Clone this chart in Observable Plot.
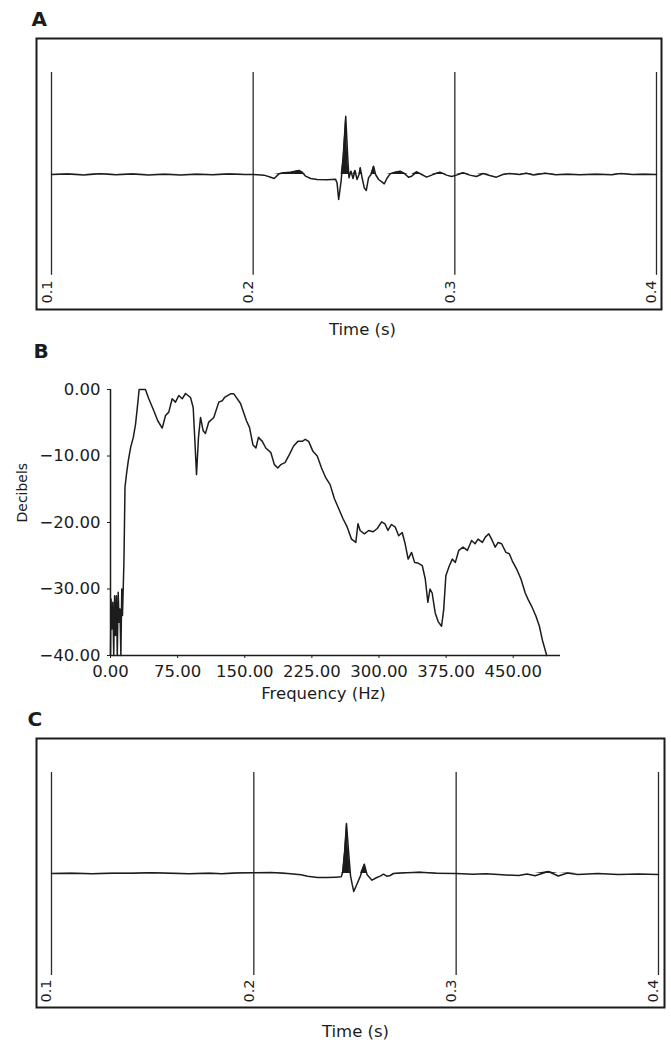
<!DOCTYPE html>
<html><head><meta charset="utf-8">
<script src="https://cdn.jsdelivr.net/npm/d3@7"></script>
<script src="https://cdn.jsdelivr.net/npm/@observablehq/plot@0.6"></script>
<style>
body{margin:0;background:#fff;}
#chart{position:relative;width:671px;height:1042px;background:#fff;}
#chart svg{position:absolute;left:0;}
</style></head><body><div id="chart"></div>
<script>
// ---- Data ----
const timeTicks = [0.1, 0.2, 0.3, 0.4];
const freqTicks = [0, 75, 150, 225, 300, 375, 450];
const dbTicks = [0, -10, -20, -30, -40];

// Panel A: waveform (relative amplitude, main peak = 1)
const timeA = [0.1,0.108,0.116,0.124,0.132,0.14,0.148,0.156,0.164,0.172,0.18,0.188,0.196,0.2,0.2054,0.2087,0.2104,0.2128,0.2153,0.2186,0.2227,0.2243,0.226,0.2285,0.2317,0.2367,0.2408,0.2416,0.2424,0.2436,0.2446,0.2459,0.2469,0.2475,0.2485,0.2495,0.2505,0.2515,0.2525,0.2531,0.2541,0.2551,0.2561,0.2572,0.2584,0.2597,0.2607,0.2622,0.2638,0.265,0.2663,0.2679,0.2704,0.2729,0.2745,0.277,0.2786,0.2811,0.2836,0.286,0.2885,0.2926,0.2959,0.2984,0.3008,0.3041,0.3074,0.3107,0.314,0.3173,0.3206,0.3238,0.3271,0.3321,0.3355,0.339,0.3449,0.35,0.356,0.362,0.37,0.378,0.382,0.388,0.394,0.4];
const ampA = [0,0.008,-0.01,0.012,-0.005,0.008,-0.01,0.005,-0.008,0.006,-0.004,0.01,0.002,0,-0.011,-0.046,-0.069,0.011,0.029,0.04,0.069,0.04,-0.029,-0.069,-0.086,-0.091,-0.08,-0.143,-0.429,-0.114,0.286,1.0,0.286,-0.057,0.057,-0.069,0.069,-0.086,0,0.114,-0.069,-0.229,-0.274,-0.057,0,0.143,0,-0.086,-0.126,-0.16,-0.069,0.011,0.04,0.057,0.029,-0.046,-0.029,0.046,0,-0.046,-0.011,0.04,-0.011,-0.034,-0.011,0.029,-0.011,-0.034,0.017,-0.017,-0.046,0,0.017,0,0.02,-0.01,0.02,-0.005,0.006,-0.005,0.005,-0.004,0.015,0,0.006,0];

// Panel B: amplitude spectrum
const freqB = [0,0.6,1.6,2.6,3.6,4.6,5.6,6.6,7.6,8.6,9.6,10.6,11.6,12.6,13.4,14.4,15.0,16.2,17.9,19.9,22.5,25.5,28.0,30.0,32.0,39.0,42.8,48.4,52.8,57.8,61.5,65.1,68.9,72.6,76.3,80.1,83.8,89.4,92.4,93.9,96.1,98.3,100.6,103.5,106.1,109.8,115.4,121.0,124.8,127.4,134.1,137.8,145.3,151.9,155.3,159.1,162.5,165.3,169.6,173.5,179.2,183.1,186.9,190.2,195.0,199.8,204.6,209.4,214.2,217.6,221.4,226.2,231.0,235.8,240.6,245.4,250.1,254.9,259.7,264.5,269.3,274.1,276.5,278.9,283.7,288.5,293.3,298.1,302.9,306.7,310.0,313.9,318.2,322.0,325.9,329.2,332.6,336.4,339.8,343.6,348.4,351.7,354.6,357.0,359.4,362.8,366.1,369.9,372.3,374.7,378.6,381.9,385.3,389.1,393.9,398.7,403.5,407.3,410.7,415.5,418.8,422.7,426.5,429.8,433.2,437.0,441.8,445.6,449.0,453.8,458.6,463.4,466.7,470.6,475.4,479.2,482.6,487.4];
const dbB = [-40,-31.5,-36,-32,-40,-31,-37,-31,-40,-30.5,-35,-33,-40,-30,-34,-29,-26,-14.7,-12.7,-10.7,-8.7,-7.2,-5.2,-2.7,0,0,-1.4,-3.2,-4.7,-5.8,-3.9,-3.4,-1.4,-1.9,-0.9,-1.4,-0.6,-1.2,-2.7,-6.7,-12.8,-7.2,-4.2,-6.2,-6.6,-4.9,-4.2,-1.9,-1.7,-1.2,-0.65,-0.65,-2.1,-4.7,-5.7,-8.3,-8.8,-7.2,-7.8,-8.8,-9.5,-11.3,-11.8,-11.3,-11.0,-9.8,-8.5,-7.8,-7.8,-7.5,-7.8,-9.3,-10,-11.8,-13.3,-14.3,-16.4,-17.9,-19.4,-20.7,-22.5,-23,-20.2,-21.2,-21.7,-21.2,-21.4,-20.9,-19.9,-20.2,-21.2,-20.3,-20.7,-22,-21.5,-23.2,-25.5,-24.5,-26,-26.1,-26.5,-28.5,-32,-30,-30.6,-33.6,-34.9,-35.6,-33.1,-28,-26.5,-25.5,-26,-24.2,-23.7,-24.2,-22.7,-23.2,-22.5,-23,-22.2,-21.7,-22.7,-23.7,-23,-23.2,-24.5,-24.7,-25.8,-27,-28.5,-30.6,-31.6,-32.6,-34.1,-35.6,-37.7,-40];

// Panel C: waveform (relative amplitude, main peak = 1)
const timeC = [0.1,0.11,0.12,0.13,0.14,0.149,0.158,0.168,0.178,0.1842,0.192,0.2,0.2086,0.2168,0.2233,0.2266,0.2315,0.2364,0.2405,0.2432,0.2439,0.2449,0.2458,0.2468,0.2478,0.2486,0.2494,0.2511,0.2527,0.2546,0.256,0.2584,0.2608,0.2625,0.2641,0.2657,0.2674,0.269,0.2755,0.2821,0.2902,0.3,0.3082,0.3147,0.3228,0.331,0.335,0.339,0.3455,0.3505,0.355,0.36,0.37,0.38,0.39,0.4];
const ampC = [0,0.004,-0.004,0.006,0.004,0.015,0.004,-0.004,0.003,-0.005,0.008,0.013,0.02,0,-0.027,-0.053,-0.08,-0.08,-0.073,-0.067,0.02,0.453,1.0,0.453,-0.047,-0.213,-0.36,-0.2,-0.047,0.187,-0.027,-0.133,-0.08,-0.053,-0.013,-0.053,-0.04,0,0.013,0.027,0.007,0,-0.013,-0.007,-0.027,-0.04,-0.01,-0.045,0.04,-0.05,0.01,-0.02,0,-0.02,-0.01,-0.02];

// ---- Drawing ----
const FONT = '"DejaVu Sans", "Liberation Sans", sans-serif';
const INK = "#1c1c1c";
const chart = document.getElementById("chart");

function wavePanel(times, amps, o) {
  const data = times.map((t, i) => ({t, a: amps[i]}));
  const svg = Plot.plot({
    width: 671, height: o.height,
    marginTop: o.mt, marginBottom: o.mb, marginLeft: 36, marginRight: o.mr,
    x: {domain: o.xd, axis: null},
    y: {domain: o.yd, axis: null},
    style: {fontFamily: FONT, background: "transparent", color: INK, overflow: "visible"},
    marks: [
      Plot.frame({stroke: INK, strokeWidth: 2}),
      Plot.ruleX(timeTicks, {x: d => d, y1: o.r1, y2: o.r2, stroke: "#2a2a2a", strokeWidth: 1.3}),
      Plot.areaY(data, {x: "t", y1: 0, y2: d => Math.max(0, d.a), fill: INK}),
      Plot.lineY(data, {x: "t", y: "a", stroke: INK, strokeWidth: 1.5}),
      Plot.text(timeTicks, {x: d => d, text: d => d.toFixed(1), frameAnchor: "bottom", rotate: -90,
        textAnchor: "start", dy: o.tickDy, dx: 0, fontSize: 14.5, fill: INK}),
      Plot.text(["Time (s)"], {text: d => d, frameAnchor: "bottom", lineAnchor: "bottom",
        dy: o.titleDy, dx: o.titleDx, fontSize: 16.5, fill: INK}),
      Plot.text([o.letter], {text: d => d, frameAnchor: "top-left", textAnchor: "start", lineAnchor: "bottom",
        dx: o.letterDx, dy: -13, fontSize: 20, fontWeight: "bold", fill: INK})
    ]
  });
  svg.style.top = o.top + "px";
  chart.appendChild(svg);
}

// Panel A
wavePanel(timeA, ampA, {
  top: 0, height: 342, mt: 38, mb: 33, mr: 10,
  xd: [0.09256, 0.40248], yd: [-2.316, 2.333], r1: -1.73, r2: 1.75,
  tickDy: -6, titleDy: 25, titleDx: 13.5, letter: "A", letterDx: -5
});

// Panel B
{
  const spec = freqB.map((f, i) => ({f, db: dbB[i]}));
  const svg = Plot.plot({
    width: 671, height: 363,
    marginTop: 47, marginBottom: 50, marginLeft: 110, marginRight: 111,
    x: {domain: [0, 502.8]},
    y: {domain: [-40, 0]},
    style: {fontFamily: FONT, fontSize: "16.5px", background: "transparent", color: INK, overflow: "visible"},
    marks: [
      Plot.axisX(freqTicks, {tickSize: 3, tickPadding: 7, tickFormat: d => d.toFixed(2), label: null, fontSize: 16.5}),
      Plot.axisY(dbTicks, {tickSize: 3, tickPadding: 7, tickFormat: d => d.toFixed(2).replace("-", "\u2212"), label: null, fontSize: 16.5}),
      Plot.ruleX([0], {stroke: INK, strokeWidth: 1.5}),
      Plot.ruleY([-40], {stroke: INK, strokeWidth: 1.5}),
      Plot.line(spec, {x: "f", y: "db", stroke: INK, strokeWidth: 1.5}),
      Plot.text(["Decibels"], {text: d => d, frameAnchor: "left", rotate: -90, dx: -88, fontSize: 14, fill: INK}),
      Plot.text(["Frequency (Hz)"], {text: d => d, frameAnchor: "bottom", lineAnchor: "bottom", dy: 43, dx: -12, fontSize: 16.5, fill: INK}),
      Plot.text(["B"], {text: d => d, frameAnchor: "top-left", textAnchor: "start", lineAnchor: "bottom",
        dx: -77, dy: -32, fontSize: 20, fontWeight: "bold", fill: INK})
    ]
  });
  svg.style.top = "342px";
  chart.appendChild(svg);
}

// Panel C
wavePanel(timeC, ampC, {
  top: 705, height: 337, mt: 33, mb: 35, mr: 7,
  xd: [0.09259, 0.40297], yd: [-2.68, 2.7], r1: -2.04, r2: 2.02,
  tickDy: -5, titleDy: 29.5, titleDx: 5, letter: "C", letterDx: -9
});
</script></body></html>
